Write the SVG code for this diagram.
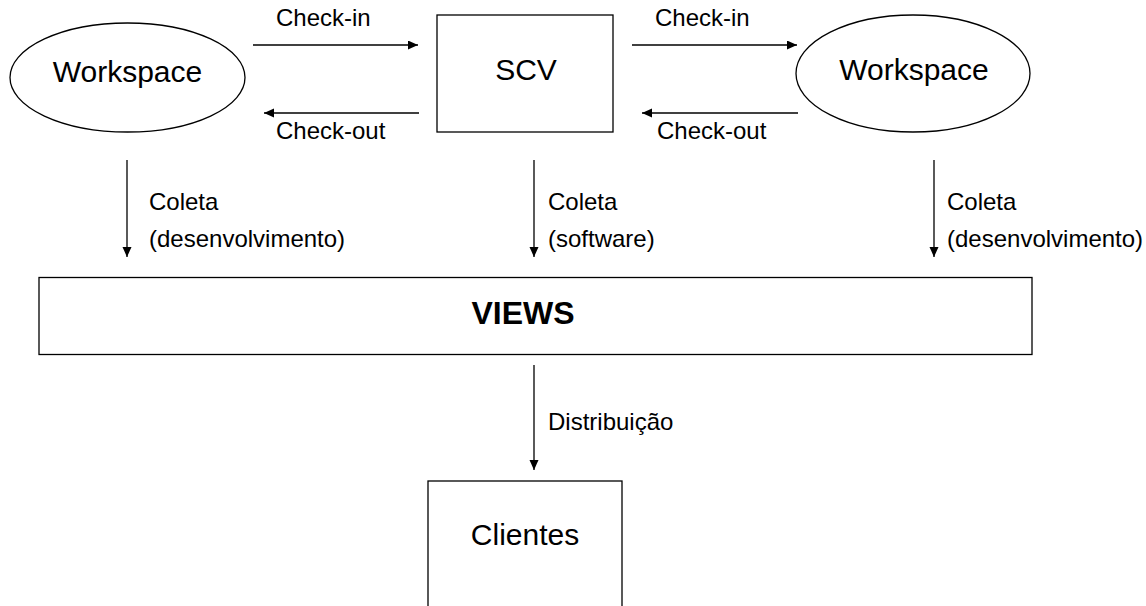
<svg xmlns="http://www.w3.org/2000/svg" width="1146" height="606" viewBox="0 0 1146 606">
  <style>
    .shape { fill: #ffffff; stroke: #000000; stroke-width: 1.3; }
    .wire { fill: none; stroke: #000000; stroke-width: 1.3; marker-end: url(#head); }
    .big { font-family: "Liberation Sans", Arial, sans-serif; font-size: 30px; fill: #000000; text-anchor: middle; }
    .bold { font-weight: bold; font-size: 32px; }
    .lbl { font-family: "Liberation Sans", Arial, sans-serif; font-size: 24px; fill: #000000; }
  </style>
  <defs>
    <marker id="head" markerUnits="userSpaceOnUse" markerWidth="11" markerHeight="10" refX="10" refY="4.5" orient="auto">
      <path d="M0,0 L10,4.5 L0,9 Z" fill="#000000"/>
    </marker>
  </defs>
  <rect width="1146" height="606" fill="#ffffff"/>

  <!-- connectors -->
  <g id="connectors">
    <line class="wire" x1="253" y1="45" x2="418" y2="45"/>
    <line class="wire" x1="419" y1="113" x2="264" y2="113"/>
    <line class="wire" x1="632" y1="45" x2="797" y2="45"/>
    <line class="wire" x1="798" y1="113" x2="642" y2="113"/>
    <line class="wire" x1="127" y1="160" x2="127" y2="257"/>
    <line class="wire" x1="534" y1="160" x2="534" y2="257"/>
    <line class="wire" x1="934" y1="160" x2="934" y2="257"/>
    <line class="wire" x1="534" y1="365" x2="534" y2="470"/>

    <text class="lbl" x="276" y="26">Check-in</text>
    <text class="lbl" x="276" y="139">Check-out</text>
    <text class="lbl" x="655" y="26">Check-in</text>
    <text class="lbl" x="657" y="139">Check-out</text>

    <text class="lbl" x="149" y="210">Coleta</text>
    <text class="lbl" x="149" y="247">(desenvolvimento)</text>
    <text class="lbl" x="548" y="210">Coleta</text>
    <text class="lbl" x="548" y="247">(software)</text>
    <text class="lbl" x="947" y="210">Coleta</text>
    <text class="lbl" x="947" y="247">(desenvolvimento)</text>

    <text class="lbl" x="548" y="430">Distribuição</text>
  </g>

  <!-- nodes -->
  <g id="workspace-left">
    <ellipse class="shape" cx="127.5" cy="77.5" rx="117.5" ry="54.5"/>
    <text class="big" x="127.5" y="82">Workspace</text>
  </g>
  <g id="scv">
    <rect class="shape" x="437" y="15" width="176" height="117"/>
    <text class="big" x="526" y="80">SCV</text>
  </g>
  <g id="workspace-right">
    <ellipse class="shape" cx="913" cy="73.5" rx="117" ry="58.5"/>
    <text class="big" x="914" y="80">Workspace</text>
  </g>
  <g id="views">
    <rect class="shape" x="39" y="277.5" width="993" height="77"/>
    <text class="big bold" x="523" y="324">VIEWS</text>
  </g>
  <g id="clientes">
    <rect class="shape" x="428" y="481" width="194" height="140"/>
    <text class="big" x="525" y="545">Clientes</text>
  </g>
</svg>
